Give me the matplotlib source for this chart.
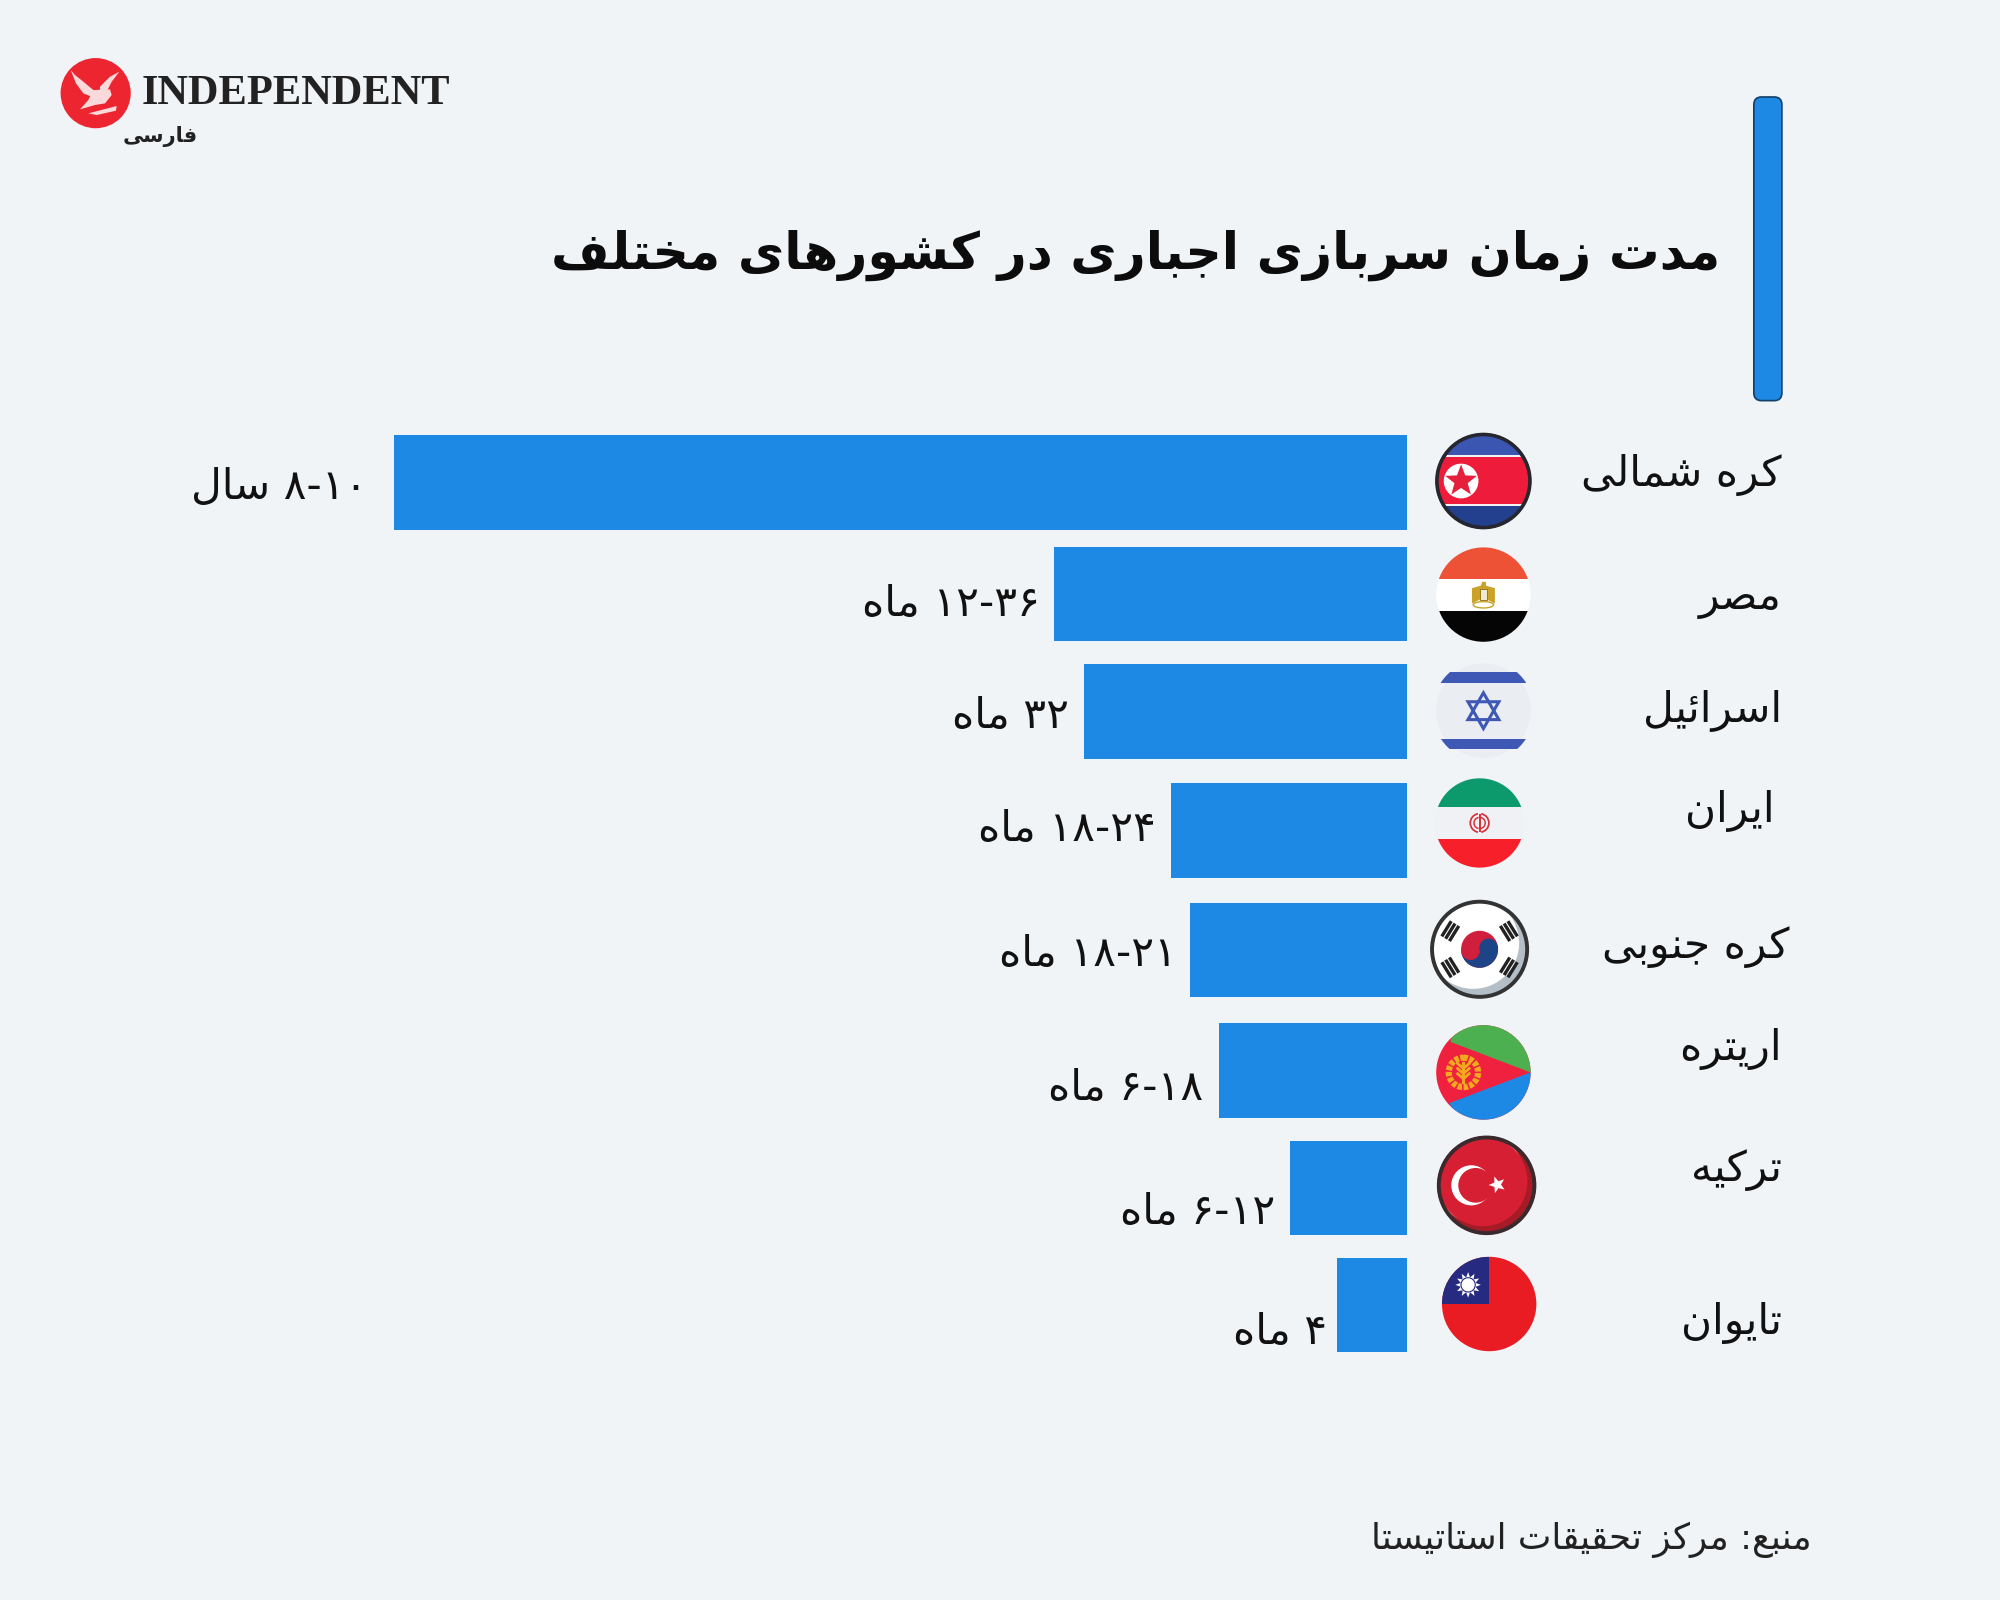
import math
import matplotlib
matplotlib.use("Agg")
import matplotlib.pyplot as plt
from matplotlib.patches import Circle, Rectangle, Polygon, Wedge, FancyBboxPatch, Ellipse

# ---------- data ----------
countries = ["کره شمالی", "مصر", "اسرائیل", "ایران", "کره جنوبی", "اریتره", "ترکیه", "تایوان"]
bar_lengths = [794, 277, 253, 185, 170, 147, 92, 55]
value_labels = ["۸-۱۰ سال", "۱۲-۳۶ ماه", "۳۲ ماه", "۱۸-۲۴ ماه", "۱۸-۲۱ ماه", "۶-۱۸ ماه", "۶-۱۲ ماه", "۴ ماه"]
title = "مدت زمان سربازی اجباری در کشورهای مختلف"
source = "منبع: مرکز تحقیقات استاتیستا"
brand = "INDEPENDENT"
brand_sub = "فارسی"

# ---------- layout (in reference display units 1568x1254) ----------
W, H = 1568, 1254
row_y = [378, 465.5, 557.5, 651, 744.5, 839, 931, 1023]
bar_h = 74
bar_right = 1103
label_xy = [(1397, 372), (1397, 469), (1397, 557), (1391, 636), (1403, 742), (1397, 822), (1397, 917), (1397, 1037)]
value_xy = [(288, 382), (815, 473), (838, 561), (906, 650), (923, 748), (943, 853), (1000, 950), (1040, 1044)]
BG = "#F1F4F7"
BLUE = "#1E88E5"
INK = "#111111"

# ---------- Arabic shaping (matplotlib draws no joined or right-to-left text) ----------
FORMS = {
    "ا": (0xFE8D, 0xFE8E), "ب": (0xFE8F, 0xFE90, 0xFE91, 0xFE92), "پ": (0xFB56, 0xFB57, 0xFB58, 0xFB59),
    "ت": (0xFE95, 0xFE96, 0xFE97, 0xFE98), "ج": (0xFE9D, 0xFE9E, 0xFE9F, 0xFEA0),
    "ح": (0xFEA1, 0xFEA2, 0xFEA3, 0xFEA4), "خ": (0xFEA5, 0xFEA6, 0xFEA7, 0xFEA8),
    "د": (0xFEA9, 0xFEAA), "ر": (0xFEAD, 0xFEAE), "ز": (0xFEAF, 0xFEB0),
    "س": (0xFEB1, 0xFEB2, 0xFEB3, 0xFEB4), "ش": (0xFEB5, 0xFEB6, 0xFEB7, 0xFEB8),
    "ص": (0xFEB9, 0xFEBA, 0xFEBB, 0xFEBC), "ع": (0xFEC9, 0xFECA, 0xFECB, 0xFECC),
    "ف": (0xFED1, 0xFED2, 0xFED3, 0xFED4), "ق": (0xFED5, 0xFED6, 0xFED7, 0xFED8),
    "ک": (0xFB8E, 0xFB8F, 0xFB90, 0xFB91), "ل": (0xFEDD, 0xFEDE, 0xFEDF, 0xFEE0),
    "م": (0xFEE1, 0xFEE2, 0xFEE3, 0xFEE4), "ن": (0xFEE5, 0xFEE6, 0xFEE7, 0xFEE8),
    "و": (0xFEED, 0xFEEE), "ه": (0xFEE9, 0xFEEA, 0xFEEB, 0xFEEC),
    "ی": (0xFBFC, 0xFBFD, 0xFBFE, 0xFBFF), "ئ": (0xFE89, 0xFE8A, 0xFE8B, 0xFE8C),
}

def shape_word(word):
    out = []
    n = len(word)
    for i, ch in enumerate(word):
        f = FORMS.get(ch)
        if f is None:
            out.append(ch)
            continue
        prev = word[i - 1] if i else ""
        nxt = word[i + 1] if i + 1 < n else ""
        joins_prev = prev in FORMS and len(FORMS[prev]) == 4
        joins_next = nxt in FORMS and len(f) == 4
        if joins_prev and joins_next:
            idx = 3
        elif joins_prev:
            idx = 1
        elif joins_next:
            idx = 2
        else:
            idx = 0
        out.append(chr(f[idx]))
    return "".join(out)

def rtl(text):
    words = []
    for w in text.split(" "):
        if any(c in FORMS for c in w):
            words.append(shape_word(w)[::-1])
        else:
            words.append(w)
    return " ".join(reversed(words))

# ---------- figure ----------
fig = plt.figure(figsize=(20, 16), dpi=100, facecolor=BG)

ax = fig.add_axes([(bar_right - max(bar_lengths)) / W, 0, max(bar_lengths) / W, 1])
ax.set_xlim(max(bar_lengths), 0)
ax.set_ylim(H, 0)
ax.axis("off")
ax.barh(row_y, bar_lengths, height=bar_h, color=BLUE, linewidth=0)

ov = fig.add_axes([0, 0, 1, 1])
ov.set_xlim(0, W)
ov.set_ylim(H, 0)
ov.axis("off")
ov.patch.set_alpha(0)

for name, (x, y) in zip(countries, label_xy):
    ov.text(x, y, rtl(name), ha="right", va="center", fontsize=30.5, color=INK, family="DejaVu Sans")
for lab, (x, y) in zip(value_labels, value_xy):
    ov.text(x, y, rtl(lab), ha="right", va="center", fontsize=30.5, color=INK, family="DejaVu Sans")
ov.text(1349, 200, rtl(title), ha="right", va="center", fontsize=36.4, fontweight="bold", color="#0C0C0C", family="DejaVu Sans")
ov.text(1420, 1207, rtl(source), ha="right", va="center", fontsize=25.7, color="#222222", family="DejaVu Sans")

# accent bar
ov.add_patch(FancyBboxPatch((1378, 79), 16, 232, boxstyle="round,pad=3,rounding_size=6",
                            fc=BLUE, ec="#123F66", lw=1.2))

# logo
def z(x, y):
    return ((50 + x / 3) / 1.2755, (50 + y / 3) / 1.2755)

ov.add_patch(Circle((75, 73), 27.5, fc="#EC2530", ec="none"))
eagle_parts = [
    [(62, 60), (75, 75), (100, 95), (130, 120), (145, 130), (125, 140), (100, 130), (78, 100)],
    [(208, 65), (185, 95), (170, 125), (150, 125), (150, 110), (180, 80)],
    [(130, 120), (180, 118), (185, 135), (165, 160), (135, 165), (90, 178), (115, 150)],
    [(115, 190), (200, 168), (198, 182), (140, 195)],
]
for part in eagle_parts:
    ov.add_patch(Polygon([z(*p) for p in part], closed=True, fc="#F9D9D9", ec="none", zorder=3))
ov.text(111, 74, brand, ha="left", va="center", fontsize=30.6, fontweight="bold", color="#222222",
        family="Liberation Serif")
ov.text(155, 107, rtl(brand_sub), ha="right", va="center", fontsize=15, fontweight="bold", color="#222222",
        family="DejaVu Sans")

# ---------- flags ----------
def disc(cx, cy, r, base, edge="none", lw=0):
    c = Circle((cx, cy), r, fc=base, ec="none", zorder=3)
    ov.add_patch(c)
    if lw:
        ov.add_patch(Circle((cx, cy), r - lw * 0.4, fc="none", ec=edge, lw=lw, zorder=8))
    return c

def clipped(patch, clip, z=4):
    patch.set_zorder(z)
    ov.add_patch(patch)
    patch.set_clip_path(clip)
    return patch

def band(cx, cy, r, y0, y1, color, clip, z=4):
    clipped(Rectangle((cx - r, cy + y0), 2 * r, y1 - y0, fc=color, ec="none"), clip, z)

def star_pts(cx, cy, r, points=5, inner=0.42, rot=-90):
    pts = []
    for i in range(points * 2):
        rad = r if i % 2 == 0 else r * inner
        a = math.radians(rot + i * 180 / points)
        pts.append((cx + rad * math.cos(a), cy + rad * math.sin(a)))
    return pts

# North Korea
cx, cy, r = 1163, 377, 37.5
c = disc(cx, cy, r, "#23408F", "#26262E", 2.6)
band(cx, cy, r, -36, -20, "#3A56B0", c)
band(cx, cy, r, -20.5, 19.5, "#F2F2F4", c)
band(cx, cy, r, -18.5, 18, "#EE1C3A", c)
clipped(Wedge((cx + 22, cy), 35, -75, 75, width=7, fc="#B51230", ec="none"), c, 5)
ov.add_patch(Circle((cx - 17.5, cy), 13.6, fc="white", ec="none", zorder=6))
ov.add_patch(Polygon(star_pts(cx - 17.5, cy, 13), fc="#E4203A", ec="none", zorder=7))

# Egypt
cx, cy, r = 1163, 466, 37
c = disc(cx, cy, r, "#FFFFFF")
band(cx, cy, r, -37, -12.5, "#EE5236", c)
band(cx, cy, r, 12.5, 37, "#050505", c)
ov.add_patch(Polygon([(cx - 9, cy - 5), (cx - 2, cy - 7), (cx - 1, cy - 10), (cx + 2, cy - 10), (cx + 2, cy - 7),
                      (cx + 9, cy - 5), (cx + 9, cy + 7), (cx + 3, cy + 4), (cx - 3, cy + 4), (cx - 9, cy + 7)],
                     fc="#C9A227", ec="none", zorder=6))
ov.add_patch(Rectangle((cx - 3, cy - 4), 6, 8, fc="#F0E9D0", ec="#8A6E14", lw=0.6, zorder=7))
ov.add_patch(Ellipse((cx, cy + 8), 16, 5, fc="none", ec="#C9A227", lw=1, zorder=6))

# Israel
cx, cy, r = 1163, 557, 37
c = disc(cx, cy, r, "#EAEDF1")
clip_wide = Circle((cx, cy), 40, transform=ov.transData)
band(cx, cy, r + 5, -30, -22, "#3F57B5", clip_wide, 4)
band(cx, cy, r + 5, 22, 30, "#3F57B5", clip_wide, 4)
for rot in (-90, 90):
    tri = [(cx + 14 * math.cos(math.radians(rot + k * 120)), cy + 14 * math.sin(math.radians(rot + k * 120))) for k in range(3)]
    ov.add_patch(Polygon(tri, closed=True, fc="none", ec="#3F57B5", lw=2.2, zorder=6))

# Iran
cx, cy, r = 1160, 645, 35
c = disc(cx, cy, r, "#F0F1F4")
band(cx, cy, r, -35, -12.3, "#0C9A6C", c)
band(cx, cy, r, 12.5, 35, "#F7202A", c)
for rad, wid in ((8, 1.4), (5, 1.2)):
    ov.add_patch(Wedge((cx, cy), rad, 100, 260, width=wid, fc="#D9323C", ec="none", zorder=6))
    ov.add_patch(Wedge((cx, cy), rad, -80, 80, width=wid, fc="#D9323C", ec="none", zorder=6))
ov.add_patch(Rectangle((cx - 0.8, cy - 7), 1.6, 14, fc="#D9323C", ec="none", zorder=6))

# South Korea
cx, cy, r = 1160, 744, 38.4
c = disc(cx, cy, r, "#B4BEC6", "#333333", 2.8)
clipped(Circle((cx - 5, cy - 5), 36, fc="#FFFFFF", ec="none"), c, 4)
ov.add_patch(Circle((cx, cy), 14.5, fc="#D01F3C", ec="none", zorder=5))
ov.add_patch(Wedge((cx, cy), 14.5, -10, 170, fc="#1C4487", ec="none", zorder=6))
ov.add_patch(Circle((cx - 7.1, cy + 1.2), 7.2, fc="#D01F3C", ec="none", zorder=7))
ov.add_patch(Circle((cx + 7.1, cy - 1.2), 7.2, fc="#1C4487", ec="none", zorder=7))
for sx, sy in ((-1, -0.62), (1, -0.62), (-1, 0.62), (1, 0.62)):
    ang = math.atan2(sy, sx)
    for d in (23.5, 27, 30.5):
        px, py = cx + d * math.cos(ang), cy + d * math.sin(ang)
        dx, dy = 7 * -math.sin(ang), 7 * math.cos(ang)
        ov.plot([px - dx, px + dx], [py - dy, py + dy], color="#222222", lw=2.4, zorder=6, solid_capstyle="butt")

# Eritrea
cx, cy, r = 1163, 840.5, 37
c = disc(cx, cy, r, "#F0203F")
clipped(Polygon([(cx - 26, cy - 24), (cx - 15, cy - 50), (cx + 50, cy - 50), (cx + 50, cy + 5)], fc="#4CAF50", ec="none"), c, 4)
clipped(Polygon([(cx - 26.5, cy + 24), (cx - 15, cy + 50), (cx + 50, cy + 50), (cx + 50, cy - 5)], fc="#1E88E5", ec="none"), c, 4)
ov.add_patch(Circle((cx - 15.7, cy), 11.5, fc="none", ec="#F2A81F", lw=4.5, ls=(0, (0.7, 0.25)), zorder=6))
ov.add_patch(Rectangle((cx - 16.6, cy - 8), 1.8, 17, fc="#F2A81F", ec="none", zorder=6))
for dy in (-5, -1, 3):
    ov.plot([cx - 15.7 - 4.5, cx - 15.7, cx - 15.7 + 4.5], [cy + dy - 2, cy + dy + 2, cy + dy - 2], color="#F2A81F", lw=2, zorder=6)

# Turkey
cx, cy, r = 1165.5, 929, 38.6
c = disc(cx, cy, r, "#A51C26", "#3A2A2E", 2.8)
clipped(Circle((cx - 6, cy - 6), 36, fc="#E07070", ec="none"), c, 4)
clipped(Circle((cx - 3, cy - 3), 35, fc="#D61F33", ec="none"), c, 5)
ov.add_patch(Circle((cx - 12, cy), 15.7, fc="white", ec="none", zorder=6))
ov.add_patch(Circle((cx - 8.6, cy), 13.6, fc="#D61F33", ec="none", zorder=7))
ov.add_patch(Polygon(star_pts(cx + 8.4, cy - 0.5, 6.8, rot=-110), fc="white", ec="none", zorder=8))

# Taiwan
cx, cy, r = 1167.5, 1022, 37
c = disc(cx, cy, r, "#E91C24")
clipped(Rectangle((cx - r, cy - r), r, r, fc="#262A80", ec="none"), c, 4)
ov.add_patch(Polygon(star_pts(cx - 16.5, cy - 15, 10, points=12, inner=0.6), fc="white", ec="none", zorder=6))
ov.add_patch(Circle((cx - 16.5, cy - 15), 5.6, fc="white", ec="#262A80", lw=0.8, zorder=7))

fig.savefig("out.png", dpi=100, facecolor=BG)
